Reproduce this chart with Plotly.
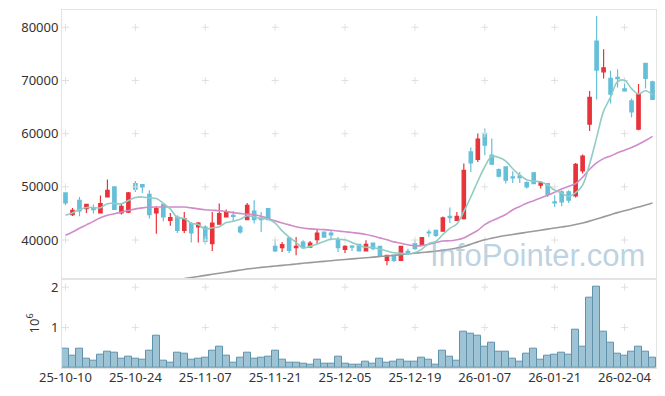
import plotly.graph_objects as go
from plotly.subplots import make_subplots

dates = [
    "25-10-10", "25-10-13", "25-10-14", "25-10-15", "25-10-16", "25-10-17", "25-10-20", "25-10-21",
    "25-10-22", "25-10-23", "25-10-24", "25-10-27", "25-10-28", "25-10-29", "25-10-30", "25-10-31",
    "25-11-03", "25-11-04", "25-11-05", "25-11-06", "25-11-07", "25-11-10", "25-11-11", "25-11-12",
    "25-11-13", "25-11-14", "25-11-17", "25-11-18", "25-11-19", "25-11-20", "25-11-21", "25-11-24",
    "25-11-25", "25-11-26", "25-11-27", "25-11-28", "25-12-01", "25-12-02", "25-12-03", "25-12-04",
    "25-12-05", "25-12-08", "25-12-09", "25-12-10", "25-12-11", "25-12-12", "25-12-15", "25-12-16",
    "25-12-17", "25-12-18", "25-12-19", "25-12-22", "25-12-23", "25-12-24", "25-12-26", "25-12-29",
    "25-12-30", "26-01-02", "26-01-05", "26-01-06", "26-01-07", "26-01-08", "26-01-09", "26-01-12",
    "26-01-13", "26-01-14", "26-01-15", "26-01-16", "26-01-19", "26-01-20", "26-01-21", "26-01-22",
    "26-01-23", "26-01-26", "26-01-27", "26-01-28", "26-01-29", "26-01-30", "26-02-02", "26-02-03",
    "26-02-04", "26-02-05", "26-02-06", "26-02-09", "26-02-10",
]

open_ = [48850, 44780, 47480, 45910, 46100, 45080, 48100, 49980, 45080, 45220,
         50620, 50430, 48600, 45080, 46720, 43710, 44330, 41830, 43090, 42450,
         42450, 39320, 42960, 44330, 44650, 42450, 43840, 45460, 44140, 45910,
         38810, 38570, 40380, 38570, 39620, 38680, 40080, 41510, 41320, 40080,
         38250, 38870, 39190, 37930, 39440, 38810, 36180, 37120, 36180, 37870,
         39320, 39190, 41510, 41830, 41650, 44460, 43710, 44030, 56570, 55140,
         60040, 55950, 53260, 53750, 51860, 52050, 50810, 52620, 50300, 50620,
         47160, 49040, 49040, 48290, 52990, 61790, 77420, 71630, 70390, 70580,
         68430, 66170, 60840, 73220, 69750]
high = [48850, 46030, 48100, 46720, 46670, 48360, 51370, 50110, 46850, 49040,
        51110, 50430, 49360, 46400, 46970, 45080, 44650, 45270, 43390, 43390,
        42770, 45270, 46850, 45720, 45460, 42770, 46970, 47480, 45270, 45910,
        40080, 39620, 40560, 40560, 39940, 39810, 42010, 41510, 41700, 40560,
        39000, 39000, 39190, 39940, 39440, 38810, 37120, 37120, 38810, 38380,
        40080, 40560, 41960, 41960, 44400, 46100, 45270, 54390, 57400, 60040,
        60980, 59090, 53440, 53880, 52940, 52800, 51050, 52800, 51110, 50730,
        48420, 49360, 49360, 54500, 56080, 68000, 82120, 75850, 71820, 72090,
        69560, 66630, 69320, 73330, 69940]
low = [46530, 44520, 44460, 45080, 44970, 44970, 47980, 45780, 44780, 45080,
       49040, 48850, 44030, 41200, 43540, 42660, 41320, 41320, 39510, 39510,
       39190, 37930, 42960, 44330, 43580, 41200, 43840, 43090, 41510, 43700,
       37740, 37740, 37550, 37120, 38380, 38570, 39190, 40560, 39940, 37740,
       37550, 37930, 37930, 37930, 38060, 36930, 35240, 35860, 36180, 37440,
       38190, 39000, 40560, 40560, 41600, 43200, 43710, 43840, 52800, 54690,
       55950, 54250, 51750, 50620, 50730, 50730, 49680, 50490, 49680, 48100,
       46210, 46350, 46970, 47980, 52500, 60520, 66440, 70390, 65680, 68700,
       67870, 63050, 60660, 68510, 66310]
close = [46970, 45590, 45460, 46720, 45720, 46850, 49360, 45780, 46350, 48850,
         49550, 49980, 44780, 45910, 44330, 44220, 41830, 44030, 41320, 43200,
         39760, 43200, 44970, 45270, 44460, 41510, 46530, 43840, 43840, 43840,
         37930, 39130, 38060, 38810, 38570, 39440, 41320, 40560, 40940, 38570,
         38810, 38680, 37930, 39190, 38380, 37120, 37120, 36180, 38810, 37680,
         38380, 40450, 41320, 40880, 44150, 44220, 44460, 53120, 54500, 58960,
         57830, 54250, 51990, 51240, 51670, 51750, 49980, 50620, 50730, 48600,
         46970, 47160, 47480, 54250, 55760, 66810, 71950, 72390, 67440, 70320,
         68060, 64100, 67440, 70390, 66440]

ma5 = [44654, 45092, 45724, 46108, 46092, 46068, 46822, 46886, 46812, 47438,
       47978, 48102, 47902, 47814, 46910, 45844, 44214, 44064, 43146, 42920,
       42028, 42302, 42490, 43280, 43532, 43882, 44548, 44322, 44036, 43912,
       43196, 41716, 40560, 39554, 38500, 38802, 39240, 39740, 40166, 40166,
       40040, 39512, 38986, 38636, 38598, 38260, 37948, 37598, 37522, 37382,
       37634, 38300, 39328, 39742, 41036, 42204, 43006, 45366, 48090, 51052,
       53774, 55732, 55506, 54854, 53396, 52180, 51326, 51052, 50950, 50336,
       49380, 48816, 48188, 48892, 50324, 54292, 59250, 64232, 66870, 69782,
       70032, 68462, 67472, 68062, 67286]
ma20 = [40890, 41500, 42200, 42850, 43500, 44200, 44650, 44950, 45250, 45550,
        45850, 46050, 46150, 46200, 46200, 46200, 46200, 46200, 46050, 45850,
        45700, 45600, 45500, 45350, 45150, 45000, 44850, 44750, 44450, 44050,
        43600, 43200, 42850, 42500, 42250, 42100, 42000, 41950, 41850, 41700,
        41550, 41400, 41250, 41050, 40750, 40400, 40050, 39650, 39400, 39100,
        38900, 38950, 39200, 39500, 39800, 39850, 40050, 40400, 41100, 41800,
        42900, 43600, 44200, 44800, 45700, 46300, 46900, 47400, 47900, 48400,
        49000, 49600, 50100, 50600, 51800, 53300, 54500, 55300, 55800, 56400,
        56900, 57400, 58000, 58700, 59500]
ma60 = [None] * 17 + [
    32750, 32950, 33150, 33350, 33550, 33750, 33950, 34150, 34350, 34550,
    34700, 34850, 34980, 35100, 35230, 35360, 35490, 35620, 35750, 35870,
    35990, 36110, 36230, 36340, 36450, 36560, 36670, 36780, 36890, 37000,
    37120, 37250, 37380, 37510, 37640, 37770, 37900, 38050, 38250, 38500,
    38800, 39200, 39650, 40050, 40350, 40600, 40850, 41050, 41250, 41450,
    41650, 41850, 42050, 42250, 42450, 42650, 42900, 43200, 43550, 43950,
    44350, 44750, 45150, 45500, 45850, 46200, 46600, 46970]

volume_m = [0.47, 0.30, 0.47, 0.22, 0.17, 0.32, 0.40, 0.37, 0.22, 0.28,
            0.22, 0.20, 0.44, 0.81, 0.17, 0.12, 0.37, 0.35, 0.20, 0.22,
            0.25, 0.44, 0.52, 0.30, 0.12, 0.25, 0.37, 0.22, 0.25, 0.27,
            0.44, 0.20, 0.12, 0.12, 0.10, 0.07, 0.20, 0.10, 0.10, 0.27,
            0.10, 0.07, 0.07, 0.15, 0.10, 0.22, 0.12, 0.15, 0.20, 0.15,
            0.15, 0.25, 0.20, 0.07, 0.44, 0.27, 0.17, 0.89, 0.84, 0.81,
            0.52, 0.62, 0.40, 0.40, 0.22, 0.15, 0.35, 0.49, 0.20, 0.30,
            0.32, 0.37, 0.32, 0.96, 0.54, 1.75, 2.00, 0.91, 0.62, 0.35,
            0.30, 0.40, 0.54, 0.40, 0.25]

x_ticks = dates[::10]
price_ticks = [40000, 50000, 60000, 70000, 80000]
price_tick_text = ["40000", "50000", "60000", "70000", "80000"]
vol_ticks = [1, 2]
vol_tick_text = ["1", "2"]

UP = "#e8333b"
DOWN = "#66bfd9"
GRID = "#e0e0e0"
FRAME = "#e3e3e3"
FONT = "Noto Sans"

fig = make_subplots(rows=2, cols=1, shared_xaxes=True, vertical_spacing=0,
                    row_heights=[0.7505, 0.2495])

fig.add_trace(go.Candlestick(
    x=dates, open=open_, high=high, low=low, close=close,
    increasing=dict(line=dict(color=UP, width=1.2), fillcolor=UP),
    decreasing=dict(line=dict(color=DOWN, width=1.2), fillcolor=DOWN),
    whiskerwidth=0,
), row=1, col=1)

fig.add_trace(go.Bar(x=dates, y=volume_m,
                     marker=dict(color="#9dc3d4", line=dict(color="#5f93ab", width=1))),
              row=2, col=1)

# grid crosses
fig.add_trace(go.Scatter(
    x=[d for d in x_ticks for _ in price_ticks],
    y=[p for _ in x_ticks for p in price_ticks],
    mode="markers", hoverinfo="skip",
    marker=dict(symbol="cross-thin", size=5, line=dict(color=GRID, width=1)),
), row=1, col=1)
fig.add_trace(go.Scatter(
    x=[d for d in x_ticks for _ in vol_ticks],
    y=[v for _ in x_ticks for v in vol_ticks],
    mode="markers", hoverinfo="skip",
    marker=dict(symbol="cross-thin", size=5, line=dict(color=GRID, width=1)),
), row=2, col=1)

fig.add_trace(go.Scatter(x=dates, y=ma60, mode="lines",
                         line=dict(color="#9a9a9a", width=1.6, shape="spline")), row=1, col=1)
fig.add_trace(go.Scatter(x=dates, y=ma20, mode="lines",
                         line=dict(color="#cf8cc8", width=1.6, shape="spline")), row=1, col=1)
fig.add_trace(go.Scatter(x=dates, y=ma5, mode="lines",
                         line=dict(color="#8fcdc3", width=1.6, shape="spline")), row=1, col=1)

# draw candles above the moving-average lines
fig.data = (fig.data[2], fig.data[3], fig.data[4], fig.data[5], fig.data[6],
            fig.data[0], fig.data[1])

axis_common = dict(showline=True, linecolor=FRAME, linewidth=1, mirror=True,
                   showgrid=False, zeroline=False, ticks="", automargin=False,
                   tickfont=dict(family=FONT, size=13, color="#333333"))

fig.update_xaxes(type="category", categoryorder="array", categoryarray=dates,
                 range=[-0.5, 84.5], tickvals=x_ticks, ticktext=x_ticks,
                 ticklabelstandoff=-3,
                 rangeslider=dict(visible=False), **axis_common)
fig.update_xaxes(showticklabels=False, row=1, col=1)
fig.update_yaxes(range=[32730, 83250], tickvals=price_ticks, ticktext=price_tick_text,
                 row=1, col=1, **axis_common)
fig.update_yaxes(range=[0, 2.21], tickvals=vol_ticks, ticktext=vol_tick_text, row=2, col=1,
                 title=dict(text="10<sup>6</sup>", font=dict(family=FONT, size=13, color="#333333"),
                            standoff=8),
                 **axis_common)

fig.add_annotation(text="InfoPointer.com", xref="paper", yref="paper",
                   x=0.801, y=0.315, xanchor="center", yanchor="middle", showarrow=False,
                   font=dict(family="Liberation Sans", size=31, color="rgba(150,185,207,0.65)"))

# the page adds an 8px body margin, so the figure is offset by 8px right and down
fig.update_layout(
    width=665, height=396,
    margin=dict(l=54, r=17, t=2, b=36),
    paper_bgcolor="white", plot_bgcolor="white",
    showlegend=False, hovermode=False, bargap=0,
)

fig.write_html("out.html")
